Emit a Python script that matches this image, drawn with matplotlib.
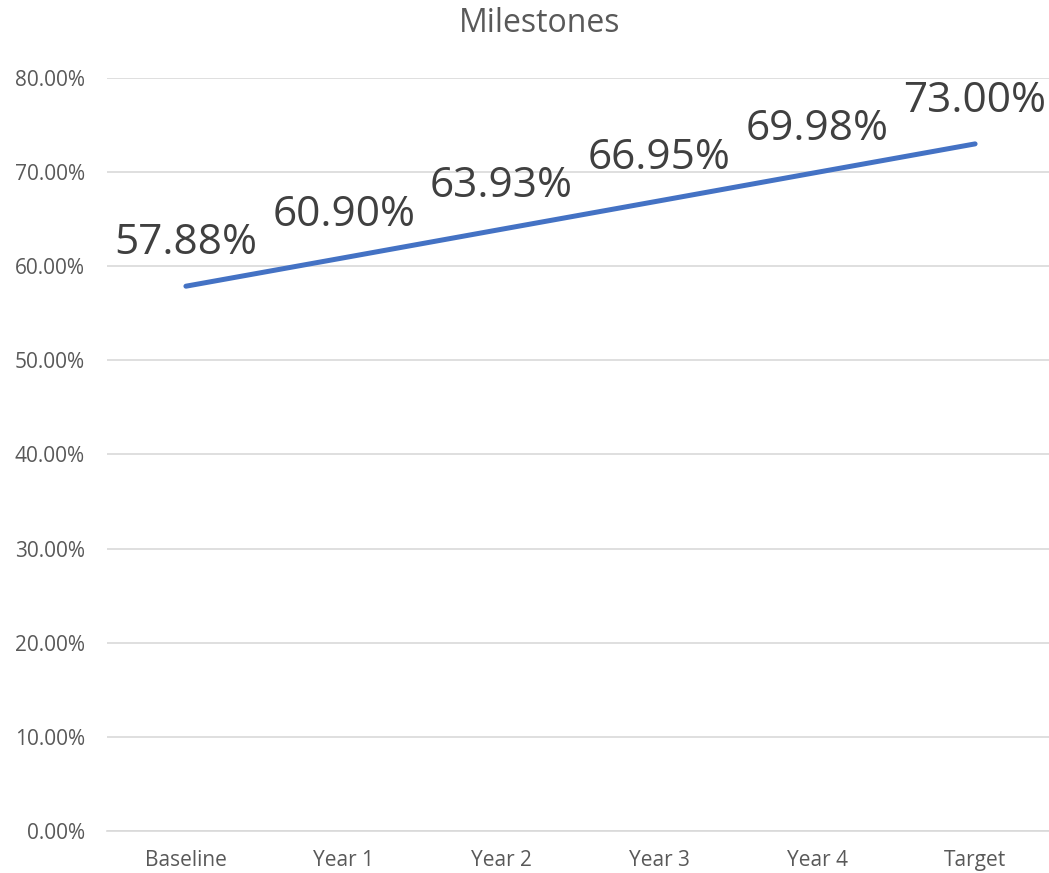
import matplotlib
matplotlib.use("Agg")
import matplotlib.pyplot as plt
from matplotlib.ticker import FuncFormatter

categories = ["Baseline", "Year 1", "Year 2", "Year 3", "Year 4", "Target"]
values = [0.5788, 0.6090, 0.6393, 0.6695, 0.6998, 0.7300]
labels = ["57.88%", "60.90%", "63.93%", "66.95%", "69.98%", "73.00%"]

plt.rcParams['font.family'] = ['Open Sans', 'DejaVu Sans']

fig = plt.figure(figsize=(10.49, 8.73), dpi=100)
ax = fig.add_axes([107/1049, 1 - 831/873, (1054-107)/1049, (831-78)/873])

x = list(range(len(categories)))
ax.plot(x, values, color="#4472C4", linewidth=3.6, solid_capstyle="round", zorder=3)
for xi, v, lab in zip(x, values, labels):
    ax.annotate(lab, (xi, v), xytext=(0, 23), textcoords="offset points",
                ha="center", va="baseline", fontsize=30.5, color="#404040",
                annotation_clip=False)

ax.set_xlim(-0.5, len(categories) - 0.5)
ax.set_ylim(0, 0.8)
ax.set_yticks([i / 10 for i in range(9)])
ax.yaxis.set_major_formatter(FuncFormatter(lambda v, p: f"{v*100:.2f}%"))
ax.set_xticks(x)
ax.set_xticklabels(categories)
ax.tick_params(axis="both", length=0, labelsize=15, labelcolor="#595959")
ax.tick_params(axis="x", pad=14)
ax.tick_params(axis="y", pad=16)
ax.grid(axis="y", color="#D9D9D9", linewidth=1.2, zorder=0)
for s in ["top", "right", "left"]:
    ax.spines[s].set_visible(False)
ax.spines["bottom"].set_color("#D9D9D9")
ax.spines["bottom"].set_linewidth(1.2)
ax.set_axisbelow(True)

fig.text(540/1049, 1 - 23/873, "Milestones", ha="center", va="center",
         fontsize=23, color="#595959")

fig.savefig("out.png", dpi=100)
